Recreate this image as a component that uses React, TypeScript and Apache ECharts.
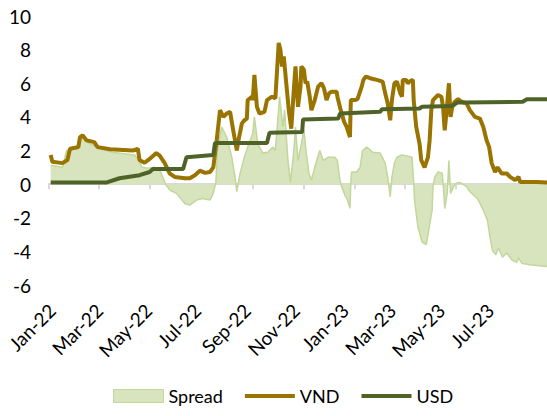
import React, { useEffect, useRef } from "react";
import * as echarts from "echarts";

const tickDates = ["2022-01-01", "2022-03-01", "2022-05-01", "2022-07-01", "2022-09-01", "2022-11-01", "2023-01-01", "2023-03-01", "2023-05-01", "2023-07-01"];
const tickLabels = ["Jan-22", "Mar-22", "May-22", "Jul-22", "Sep-22", "Nov-22", "Jan-23", "Mar-23", "May-23", "Jul-23"];
const xMin = "2022-01-01";
const xMax = "2023-08-18";

const spread: [string, number][] = [
  ["2022-01-03", 1.13], ["2022-01-17", 1.0], ["2022-01-22", 2.0], ["2022-02-03", 2.1], ["2022-02-07", 2.8],
  ["2022-02-10", 2.9], ["2022-02-15", 2.5], ["2022-02-27", 2.2], ["2022-03-17", 1.9], ["2022-04-13", 1.73],
  ["2022-04-17", 1.5], ["2022-04-22", 1.0], ["2022-04-29", 0.95], ["2022-05-07", 1.0], ["2022-05-13", 0.85],
  ["2022-05-20", 0.0], ["2022-05-25", -0.36], ["2022-06-02", -0.55], ["2022-06-12", -1.15], ["2022-06-18", -1.25],
  ["2022-06-26", -0.95], ["2022-07-03", -0.85], ["2022-07-12", -0.95], ["2022-07-16", -0.55], ["2022-07-19", 0.1],
  ["2022-07-21", 2.0], ["2022-07-26", 3.4], ["2022-08-01", 2.8], ["2022-08-07", 1.6], ["2022-08-11", 0.4],
  ["2022-08-13", -0.45], ["2022-08-17", 0.65], ["2022-08-22", 1.6], ["2022-08-26", 2.2], ["2022-09-01", 3.0],
  ["2022-09-03", 4.0], ["2022-09-07", 2.4], ["2022-09-13", 1.85], ["2022-09-19", 1.9], ["2022-09-25", 2.2],
  ["2022-09-28", 2.0], ["2022-10-03", 5.2], ["2022-10-07", 3.4], ["2022-10-09", 4.4], ["2022-10-13", 1.4],
  ["2022-10-16", 0.1], ["2022-10-20", 2.0], ["2022-10-22", 3.4], ["2022-10-25", 1.4], ["2022-10-29", 2.4],
  ["2022-11-01", 3.2], ["2022-11-04", 1.8], ["2022-11-07", 0.65], ["2022-11-10", 0.24], ["2022-11-14", 1.0],
  ["2022-11-20", 2.0], ["2022-11-24", 1.4], ["2022-11-30", 1.6], ["2022-12-08", 1.6], ["2022-12-11", 1.4],
  ["2022-12-14", 0.24], ["2022-12-16", -0.15], ["2022-12-20", -0.65], ["2022-12-23", -0.95], ["2022-12-26", -1.43],
  ["2022-12-27", 0.1], ["2022-12-28", 0.72], ["2023-01-03", 0.72], ["2023-01-07", 1.0], ["2023-01-10", 2.0],
  ["2023-01-15", 2.2], ["2023-01-22", 1.9], ["2023-01-31", 1.85], ["2023-02-06", 1.25], ["2023-02-09", 0.4],
  ["2023-02-12", -0.75], ["2023-02-14", 0.4], ["2023-02-17", 1.25], ["2023-02-20", 1.6], ["2023-02-26", 1.73],
  ["2023-03-04", 1.67], ["2023-03-10", 1.6], ["2023-03-12", 0.1], ["2023-03-13", -0.95], ["2023-03-17", -2.55],
  ["2023-03-22", -3.45], ["2023-03-27", -3.6], ["2023-03-30", -2.7], ["2023-04-03", -1.55], ["2023-04-04", -0.15],
  ["2023-04-06", 0.4], ["2023-04-10", 0.72], ["2023-04-15", 0.65], ["2023-04-16", 0.1], ["2023-04-18", -1.45],
  ["2023-04-21", -0.55], ["2023-04-23", 1.4], ["2023-04-25", -0.55], ["2023-04-30", 0.0], ["2023-05-04", 0.1],
  ["2023-05-08", 0.05], ["2023-05-14", -0.15], ["2023-05-18", -0.45], ["2023-05-27", -0.85], ["2023-05-30", -1.15],
  ["2023-06-03", -1.55], ["2023-06-08", -2.15], ["2023-06-11", -3.15], ["2023-06-14", -3.95], ["2023-06-18", -4.2],
  ["2023-06-21", -3.8], ["2023-06-26", -4.35], ["2023-07-01", -4.1], ["2023-07-07", -4.5], ["2023-07-13", -4.65],
  ["2023-07-15", -4.4], ["2023-07-19", -4.7], ["2023-07-28", -4.8], ["2023-08-18", -4.9],
];

const vnd: [string, number][] = [
  ["2022-01-03", 1.73], ["2022-01-05", 1.33], ["2022-01-17", 1.25], ["2022-01-23", 1.43], ["2022-01-26", 2.1],
  ["2022-02-05", 2.2], ["2022-02-07", 2.8], ["2022-02-10", 2.9], ["2022-02-15", 2.6], ["2022-02-24", 2.5],
  ["2022-02-28", 2.2], ["2022-03-15", 2.07], ["2022-04-11", 2.0], ["2022-04-17", 2.1], ["2022-04-19", 1.43],
  ["2022-04-25", 1.27], ["2022-05-01", 1.5], ["2022-05-09", 1.85], ["2022-05-13", 1.7], ["2022-05-19", 1.25],
  ["2022-05-25", 0.63], ["2022-05-31", 0.43], ["2022-06-12", 0.35], ["2022-06-18", 0.35], ["2022-06-24", 0.53],
  ["2022-06-30", 0.8], ["2022-07-06", 0.67], ["2022-07-12", 0.72], ["2022-07-16", 1.0], ["2022-07-20", 2.6],
  ["2022-07-24", 4.4], ["2022-07-28", 4.0], ["2022-08-01", 4.2], ["2022-08-05", 4.3], ["2022-08-08", 3.4],
  ["2022-08-13", 2.0], ["2022-08-15", 2.6], ["2022-08-19", 3.6], ["2022-08-22", 3.8], ["2022-08-25", 3.9],
  ["2022-08-26", 5.0], ["2022-08-31", 5.2], ["2022-09-01", 5.0], ["2022-09-03", 6.5], ["2022-09-06", 4.6],
  ["2022-09-09", 4.2], ["2022-09-15", 4.3], ["2022-09-18", 5.0], ["2022-09-24", 5.2], ["2022-09-28", 5.1],
  ["2022-10-02", 8.4], ["2022-10-04", 8.0], ["2022-10-06", 7.0], ["2022-10-08", 7.6], ["2022-10-11", 6.0],
  ["2022-10-14", 4.4], ["2022-10-17", 3.3], ["2022-10-20", 5.6], ["2022-10-22", 7.0], ["2022-10-25", 4.6],
  ["2022-10-28", 5.8], ["2022-10-29", 7.0], ["2022-11-01", 6.8], ["2022-11-03", 6.0], ["2022-11-05", 6.1],
  ["2022-11-08", 5.2], ["2022-11-10", 4.4], ["2022-11-14", 5.0], ["2022-11-18", 5.8], ["2022-11-22", 6.0],
  ["2022-11-25", 5.7], ["2022-11-28", 5.0], ["2022-12-01", 5.4], ["2022-12-04", 5.5], ["2022-12-10", 5.5],
  ["2022-12-11", 5.2], ["2022-12-15", 4.4], ["2022-12-19", 3.7], ["2022-12-22", 3.4], ["2022-12-26", 2.8],
  ["2022-12-27", 5.0], ["2023-01-01", 5.0], ["2023-01-04", 5.05], ["2023-01-09", 5.8], ["2023-01-11", 6.2],
  ["2023-01-14", 6.4], ["2023-01-19", 6.3], ["2023-01-27", 6.2], ["2023-02-03", 6.1], ["2023-02-06", 5.4],
  ["2023-02-09", 4.8], ["2023-02-12", 3.8], ["2023-02-14", 5.0], ["2023-02-17", 6.0], ["2023-02-20", 6.1],
  ["2023-02-24", 5.4], ["2023-02-26", 5.2], ["2023-02-27", 6.2], ["2023-03-03", 6.2], ["2023-03-05", 6.0],
  ["2023-03-07", 6.1], ["2023-03-11", 6.2], ["2023-03-12", 5.0], ["2023-03-15", 3.4], ["2023-03-19", 2.4],
  ["2023-03-21", 1.43], ["2023-03-25", 1.0], ["2023-03-29", 1.6], ["2023-03-31", 2.6], ["2023-04-02", 4.4],
  ["2023-04-04", 5.0], ["2023-04-10", 5.3], ["2023-04-14", 5.2], ["2023-04-16", 4.6], ["2023-04-18", 3.2],
  ["2023-04-20", 4.2], ["2023-04-23", 6.0], ["2023-04-25", 4.0], ["2023-04-27", 4.6], ["2023-04-30", 4.9],
  ["2023-05-04", 5.05], ["2023-05-08", 4.9], ["2023-05-14", 4.8], ["2023-05-18", 4.4], ["2023-05-24", 4.0],
  ["2023-05-30", 3.9], ["2023-06-03", 3.4], ["2023-06-07", 2.6], ["2023-06-10", 2.2], ["2023-06-13", 1.25],
  ["2023-06-17", 0.72], ["2023-06-20", 1.0], ["2023-06-25", 0.63], ["2023-07-01", 0.63], ["2023-07-05", 0.43],
  ["2023-07-11", 0.24], ["2023-07-15", 0.43], ["2023-07-17", 0.12], ["2023-08-06", 0.12], ["2023-08-18", 0.1],
];

const usd: [string, number][] = [
  ["2022-01-03", 0.1], ["2022-03-11", 0.1], ["2022-03-26", 0.35], ["2022-04-19", 0.53], ["2022-05-01", 0.72],
  ["2022-05-05", 0.9], ["2022-06-10", 0.9], ["2022-06-14", 1.6], ["2022-07-16", 1.73], ["2022-07-18", 2.45],
  ["2022-09-18", 2.45], ["2022-09-21", 3.05], ["2022-10-30", 3.1], ["2022-10-31", 3.85], ["2022-12-12", 3.9],
  ["2022-12-14", 4.2], ["2023-01-31", 4.3], ["2023-02-02", 4.45], ["2023-03-19", 4.5], ["2023-03-22", 4.6],
  ["2023-04-27", 4.65], ["2023-05-03", 4.85], ["2023-05-14", 4.85], ["2023-07-20", 4.9], ["2023-07-25", 5.05],
  ["2023-08-18", 5.05],
];

const FONT = "Lato";
const LINE_ICON = "path://M0,0H50V4H0Z";

function dayIndex(d: string) {
  const [y, m, day] = d.split("-").map(Number);
  const [y0, m0, d0] = xMin.split("-").map(Number);
  return Math.round((Date.UTC(y, m - 1, day) - Date.UTC(y0, m0 - 1, d0)) / 86400000);
}

export default function App() {
  const ref = useRef<HTMLDivElement>(null);
  useEffect(() => {
    if (!ref.current) return;
    const chart = echarts.init(ref.current, null, { renderer: "svg" });
    const tickIdx = tickDates.map(dayIndex);
    // the source places its rotated labels on a slightly tighter pitch than the ticks
    const labelPos = tickIdx.map((t, i) => t + 3.6 - 2.6 * i);
    const fmt = (v: number) => {
      let best = -1;
      let bd = Infinity;
      labelPos.forEach((p, i) => {
        const d = Math.abs(p - v);
        if (d < bd) { bd = d; best = i; }
      });
      return best >= 0 && bd < 1 ? tickLabels[best] : "";
    };
    const toXY = (arr: [string, number][]) => arr.map(([d, v]) => [dayIndex(d), v]);
    chart.setOption({
      animation: false,
      textStyle: { fontFamily: FONT },
      grid: { left: 49, right: 0, top: 16, bottom: 131, containLabel: false },
      legend: {
        bottom: 6,
        left: 108,
        itemWidth: 50,
        itemHeight: 13,
        itemGap: 22,
        symbolKeepAspect: true,
        textStyle: { fontFamily: FONT, fontSize: 18, color: "#000" },
        data: [
          { name: "Spread", icon: "rect", itemStyle: { color: "#d7e4bd", borderColor: "#c3d69b", borderWidth: 1 } },
          { name: "VND", icon: LINE_ICON, itemStyle: { color: "#9a7400", borderWidth: 0 } },
          { name: "USD", icon: LINE_ICON, itemStyle: { color: "#4f6228", borderWidth: 0 } },
        ],
      },
      xAxis: [
        {
          type: "value",
          min: 0,
          max: dayIndex(xMax),
          position: "bottom",
          axisLine: { show: false, onZero: false },
          axisTick: { show: false },
          splitLine: { show: false },
          axisLabel: {
            customValues: labelPos,
            formatter: (v: number) => fmt(v),
            rotate: 45,
            margin: 22,
            fontSize: 19,
            color: "#000",
            fontFamily: FONT,
            showMinLabel: true,
            showMaxLabel: true,
          },
        },
        {
          type: "value",
          min: 0,
          max: dayIndex(xMax),
          position: "bottom",
          axisLine: { show: true, onZero: true, lineStyle: { color: "#d9d9d9", width: 2 } },
          axisTick: { show: true, customValues: tickIdx, length: 5, lineStyle: { color: "#d9d9d9", width: 2 } },
          axisLabel: { show: false },
          splitLine: { show: false },
        },
      ],
      yAxis: {
        type: "value",
        min: -6,
        max: 10,
        interval: 2,
        axisLine: { show: false },
        axisTick: { show: false },
        splitLine: { show: false },
        axisLabel: { fontSize: 19, color: "#000", margin: 18, fontFamily: FONT },
      },
      series: [
        {
          name: "Spread",
          type: "line",
          xAxisIndex: 0,
          data: toXY(spread),
          showSymbol: false,
          symbol: "none",
          lineStyle: { color: "#c3d69b", width: 1.5 },
          itemStyle: { color: "#d7e4bd" },
          areaStyle: { color: "#d7e4bd", opacity: 1 },
          z: 1,
        },
        {
          name: "VND",
          type: "line",
          xAxisIndex: 0,
          data: toXY(vnd),
          showSymbol: false,
          symbol: "none",
          lineStyle: { color: "#9a7400", width: 4 },
          itemStyle: { color: "#9a7400" },
          z: 3,
        },
        {
          name: "USD",
          type: "line",
          xAxisIndex: 0,
          data: toXY(usd),
          showSymbol: false,
          symbol: "none",
          lineStyle: { color: "#4f6228", width: 4 },
          itemStyle: { color: "#4f6228" },
          z: 4,
        },
      ],
    });
    return () => chart.dispose();
  }, []);
  return (
    <div
      ref={ref}
      style={{ position: "fixed", left: 0, top: 0, width: 547, height: 416, background: "#fff" }}
    />
  );
}
